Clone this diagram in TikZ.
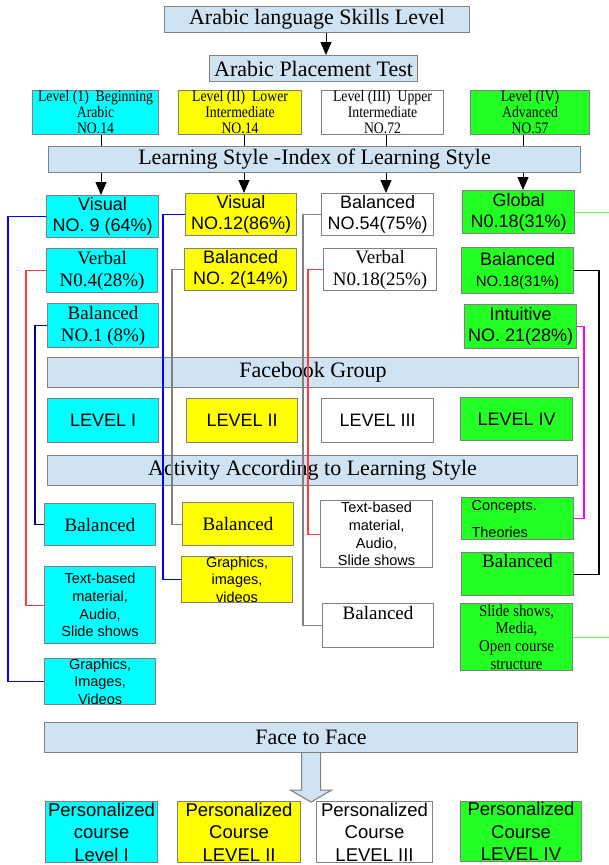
\documentclass[tikz,border=0pt]{standalone}
\usepackage{fontspec}
\setmainfont{Liberation Serif}
\setsansfont{Liberation Sans}
\newfontfamily\condserif[FakeStretch=0.86]{Liberation Serif}
\newfontfamily\condserifb[FakeStretch=0.9]{Liberation Serif}
\usetikzlibrary{arrows.meta}
\definecolor{lb}{RGB}{207,227,242}
\definecolor{cy}{RGB}{0,255,255}
\definecolor{ye}{RGB}{255,255,0}
\definecolor{gr}{RGB}{34,255,34}
\definecolor{boxgray}{RGB}{128,128,128}
\definecolor{lnblue}{RGB}{0,0,255}
\definecolor{lnred}{RGB}{255,60,60}
\definecolor{lnnavy}{RGB}{0,0,140}
\definecolor{lngray}{RGB}{128,128,128}
\definecolor{lnmag}{RGB}{255,0,255}
\definecolor{lngreen}{RGB}{100,240,100}
\newcommand{\mybox}[7]{\node[#1, minimum width={#5pt-#3pt}, minimum height={#6pt-#4pt}] (#2) at (#3,#4) {#7};}
\begin{document}
\begin{tikzpicture}[x=1pt,y=-1pt,
  box/.style={draw=boxgray, line width=1.1pt, inner sep=0pt, anchor=north west, align=center},
  lbbox/.style={box, fill=lb},
  cybox/.style={box, fill=cy},
  yebox/.style={box, fill=ye},
  whbox/.style={box, fill=white},
  grbox/.style={box, fill=gr},
  fH/.style={font=\fontsize{22}{26}\selectfont},
  fLv/.style={font=\condserif\fontsize{16}{16}\selectfont},
  fSM/.style={font=\sffamily\fontsize{18}{21}\selectfont},
  fRM/.style={font=\fontsize{19}{22}\selectfont},
  fSS/.style={font=\sffamily\fontsize{14.5}{17.6}\selectfont},
  fRS/.style={font=\condserifb\fontsize{16.5}{17.6}\selectfont},
  fP/.style={font=\sffamily\fontsize{18.5}{22.5}\selectfont},
  arr/.style={-{Triangle[width=11pt,length=13pt]}, line width=1pt, black},
  plain/.style={line width=1pt, black},
  conn/.style={line width=1.1pt},
  bigarrow/.style={fill=lb, draw=boxgray, line width=1.1pt}]
\useasboundingbox (0,0) rectangle (609,865);
% headers
\mybox{lbbox,fH}{title}{164}{6}{469}{32}{Arabic language Skills Level}
\mybox{lbbox,fH}{place}{209}{55}{417}{81}{Arabic Placement Test}
\mybox{cybox,fLv}{lv1}{32}{90}{158}{134}{Level (1)\ \ Beginning\\Arabic\\NO.14}
\mybox{yebox,fLv}{lv2}{178}{90}{301}{134}{Level (II)\ \ Lower\\Intermediate\\NO.14}
\mybox{whbox,fLv}{lv3}{321}{90}{443}{134}{Level (III)\ \ Upper\\Intermediate\\NO.72}
\mybox{grbox,fLv}{lv4}{470}{90}{589}{134}{Level (IV)\\Advanced\\NO.57}
\mybox{lbbox,fH}{ls}{48}{146}{580}{172}{Learning Style -Index of Learning Style}
% learning style results
\mybox{cybox,fSM}{vis1}{46}{195}{158}{237}{Visual\\NO. 9 (64\%)}
\mybox{cybox,fRM}{verb1}{46}{248}{157}{292}{Verbal\\N0.4(28\%)}
\mybox{cybox,fRM}{bal1}{47}{303}{158}{347}{Balanced\\NO.1 (8\%)}
\mybox{yebox,fSM}{vis2}{185}{193}{296}{235}{Visual\\NO.12(86\%)}
\mybox{yebox,fSM}{bal2}{184}{248}{296}{290}{Balanced\\NO. 2(14\%)}
\mybox{whbox,fSM}{bal3}{321}{193}{433}{235}{Balanced\\NO.54(75\%)}
\mybox{whbox,fRM}{verb3}{323}{248}{436}{290}{Verbal\\N0.18(25\%)}
\mybox{grbox,fSM}{glob}{462}{190}{574}{233}{Global\\N0.18(31\%)}
\mybox{grbox,fSM}{bal4}{461}{247}{573}{293}{Balanced\\{\fontsize{15}{18}\selectfont NO.18(31\%)}}
\mybox{grbox,fSM}{intu}{464}{304}{576}{348}{Intuitive\\NO. 21(28\%)}
% facebook
\mybox{lbbox,fH}{fb}{47}{357}{578}{387}{Facebook Group}
\mybox{cybox,fSM}{fl1}{47}{398}{158}{442}{LEVEL I}
\mybox{yebox,fSM}{fl2}{186}{398}{297}{442}{LEVEL II}
\mybox{whbox,fSM}{fl3}{321}{398}{433}{442}{LEVEL III}
\mybox{grbox,fSM}{fl4}{460}{397}{572}{440}{LEVEL IV}
% activities
\mybox{lbbox,fH}{act}{47}{455}{577}{485}{Activity According to Learning Style}
\mybox{cybox,fRM}{abal1}{44}{503}{155}{545}{Balanced}
\mybox{yebox,fRM}{abal2}{182}{502}{293}{545}{Balanced}
\mybox{cybox,fSS}{atext1}{44}{566}{155}{643}{Text-based\\material,\\Audio,\\Slide shows}
\mybox{yebox,fSS}{agr2}{181}{556}{292}{601}{Graphics,\\images,\\videos}
\mybox{cybox,fSS}{agr1}{44}{658}{155}{700}{Graphics,\\Images,\\Videos}
\mybox{whbox,fSS}{atext3}{320}{500}{432}{567}{Text-based\\material,\\Audio,\\Slide shows}
\mybox{whbox}{abal3}{322}{603}{433}{647}{}
\node[fRM, inner sep=0pt, anchor=north] (abal3t) at ([yshift=-3pt]abal3.north) {Balanced};
\mybox{grbox,fSS,text width=92pt,align=left}{conc}{461}{497}{573}{539}{Concepts.\\[9.4pt]Theories}
\mybox{grbox}{abal4}{461}{552}{573}{595}{}
\node[fRM, inner sep=0pt, anchor=north] (abal4t) at ([yshift=-2pt]abal4.north) {Balanced};
\mybox{grbox,fRS}{aslide}{460}{603}{572}{670}{Slide shows,\\Media,\\Open course\\structure}
% face to face
\mybox{lbbox,fH}{face}{44}{722}{577}{752}{Face to Face}
\mybox{cybox,fP}{p1}{45}{801}{157}{862}{Personalized\\course\\Level I}
\mybox{yebox,fP}{p2}{177}{801}{300}{862}{Personalized\\Course\\LEVEL II}
\mybox{whbox,fP}{p3}{316}{801}{432}{862}{Personalized\\Course\\LEVEL III}
\mybox{grbox,fP}{p4}{460}{801}{581}{861}{Personalized\\Course\\LEVEL IV}
% coordinates
\coordinate (a0) at (326,0);
\coordinate (k1) at (101,0);
\coordinate (k2) at (244,0);
\coordinate (k3) at (386,0);
\coordinate (k4) at (523,0);
\coordinate (xb1) at (8,0);
\coordinate (xr1) at (26,0);
\coordinate (xn1) at (35,0);
\coordinate (xb2) at (163,0);
\coordinate (xg2) at (172,0);
\coordinate (xg3) at (303,0);
\coordinate (xr3) at (308,0);
\coordinate (xm4) at (584,0);
\coordinate (xk4) at (599,0);
\coordinate (edge) at (609,0);
% arrows and lines
\draw[arr] (title.south -| a0) -- (place.north -| a0);
\draw[plain] (lv1.south -| k1) -- (ls.north -| k1);
\draw[plain] (lv2.south -| k2) -- (ls.north -| k2);
\draw[plain] (lv3.south -| k3) -- (ls.north -| k3);
\draw[plain] (lv4.south -| k4) -- (ls.north -| k4);
\draw[arr] (ls.south -| k1) -- (vis1.north -| k1);
\draw[arr] (ls.south -| k2) -- (vis2.north -| k2);
\draw[arr] (ls.south -| k3) -- (bal3.north -| k3);
\draw[arr] (ls.south -| k4) -- (glob.north -| k4);
% connectors
\draw[conn, lnblue] (vis1.west) -- (vis1.west -| xb1) |- (agr1.west);
\draw[conn, lnred] (verb1.west) -- (verb1.west -| xr1) |- (atext1.west);
\draw[conn, lnnavy] (bal1.west) -- (bal1.west -| xn1) |- (abal1.west);
\draw[conn, lnblue] (vis2.west) -- (vis2.west -| xb2) |- (agr2.west);
\draw[conn, lngray] (bal2.west) -- (bal2.west -| xg2) |- (abal2.west);
\draw[conn, lngray] (bal3.west) -- (bal3.west -| xg3) |- (abal3.west);
\draw[conn, lnred] (verb3.west) -- (verb3.west -| xr3) |- (atext3.west);
\draw[conn, lnmag] (intu.east) -- (intu.east -| xm4) |- (conc.east);
\draw[conn, black] (bal4.east) -- (bal4.east -| xk4) |- (abal4.east);
\draw[conn, lngreen] (glob.east) -- (glob.east -| edge);
\draw[conn, lngreen] (aslide.east) -- (aslide.east -| edge);
% block arrow
\draw[bigarrow] ([xshift=-9.5pt]face.south) -- ++(0,37) -- ++(-11,0) -- ++(20.5,12) -- ++(20.5,-12) -- ++(-11,0) -- ++(0,-37);
\end{tikzpicture}
\end{document}
